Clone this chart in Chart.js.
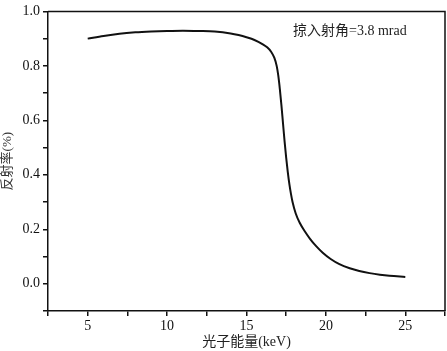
<!DOCTYPE html>
<html>
<head>
<meta charset="utf-8">
<script src="https://cdn.jsdelivr.net/npm/chart.js@4/dist/chart.umd.min.js"></script>
<style>
  html, body { margin: 0; padding: 0; background: #fff; }
  #wrap { width: 447px; height: 351px; }
</style>
</head>
<body>
<div id="wrap"><canvas id="reflChart"></canvas></div>
<script>
// photon energy (keV) and reflectivity
const energy = [5, 6, 7, 8, 9, 10, 11, 12, 13, 14, 14.5, 15, 15.5, 16, 16.3, 16.55, 16.75, 16.9, 17, 17.1, 17.2, 17.3, 17.4, 17.5, 17.6, 17.7, 17.8, 17.9, 18.1, 18.35, 18.7, 19, 19.4, 19.8, 20.3, 20.85, 21.5, 22.1, 22.75, 23.4, 24, 25];
const reflectivity = [0.900, 0.910, 0.918, 0.923, 0.926, 0.928, 0.929, 0.928, 0.926, 0.919, 0.913, 0.905, 0.895, 0.880, 0.868, 0.852, 0.830, 0.800, 0.765, 0.715, 0.655, 0.588, 0.522, 0.462, 0.410, 0.366, 0.330, 0.300, 0.258, 0.224, 0.190, 0.165, 0.137, 0.114, 0.091, 0.072, 0.057, 0.047, 0.039, 0.033, 0.029, 0.025];
const annotation = '掠入射角=3.8 mrad';
const xTitle = '光子能量(keV)';
const yTitle = '反射率(%)';

const serif = "'Liberation Serif', 'Noto Sans CJK SC', serif";

// frame box + annotation text
const framePlugin = {
    id: 'frame',
    afterDraw(chart) {
        const { ctx, chartArea: a } = chart;
        ctx.save();
        ctx.strokeStyle = '#111';
        ctx.lineWidth = 1.5;
        ctx.beginPath();
        ctx.moveTo(a.left, a.top);
        ctx.lineTo(a.right, a.top);
        ctx.lineTo(a.right, a.bottom);
        ctx.stroke();
        ctx.fillStyle = '#222';
        ctx.font = '14px ' + serif;
        ctx.textBaseline = 'middle';
        ctx.fillText(annotation, 293, 31);
        ctx.restore();
    }
};

new Chart(document.getElementById('reflChart').getContext('2d'), {
    type: 'scatter',
    data: {
        datasets: [{
            data: energy.map((e, i) => ({ x: e, y: reflectivity[i] })),
            showLine: true,
            borderColor: '#111',
            borderWidth: 2,
            pointRadius: 0,
            cubicInterpolationMode: 'monotone'
        }]
    },
    options: {
        responsive: true,
        maintainAspectRatio: false,
        animation: false,
        layout: { padding: { top: 5, right: 1, left: 0, bottom: 0 } },
        plugins: { legend: { display: false }, tooltip: { enabled: false } },
        scales: {
            x: {
                type: 'linear',
                min: 2.5,
                max: 27.5,
                afterFit(s) { s.height = 40; },
                border: { color: '#111', width: 1.5 },
                grid: { drawOnChartArea: false, color: '#111', tickLength: 5, lineWidth: 1.5 },
                ticks: {
                    stepSize: 2.5,
                    color: '#111',
                    padding: 2,
                    font: { family: serif, size: 14 },
                    callback: v => (v % 5 === 0 ? String(v) : '')
                },
                title: {
                    display: true,
                    text: xTitle,
                    color: '#222',
                    padding: { top: 0, bottom: 0 },
                    font: { family: serif, size: 14 }
                }
            },
            y: {
                min: -0.1,
                max: 1.0,
                afterFit(s) { s.width = 48; },
                border: { color: '#111', width: 1.5 },
                grid: { drawOnChartArea: false, color: '#111', tickLength: 5, lineWidth: 1.5 },
                ticks: {
                    stepSize: 0.1,
                    color: '#111',
                    padding: 3,
                    font: { family: serif, size: 14 },
                    callback: v => {
                        const k = Math.round(v * 10);
                        return k >= 0 && k % 2 === 0 ? (k / 10).toFixed(1) : '';
                    }
                },
                title: {
                    display: true,
                    text: yTitle,
                    color: '#333',
                    padding: 0,
                    font: { family: serif, size: 13 }
                }
            }
        }
    },
    plugins: [framePlugin]
});
</script>
</body>
</html>
